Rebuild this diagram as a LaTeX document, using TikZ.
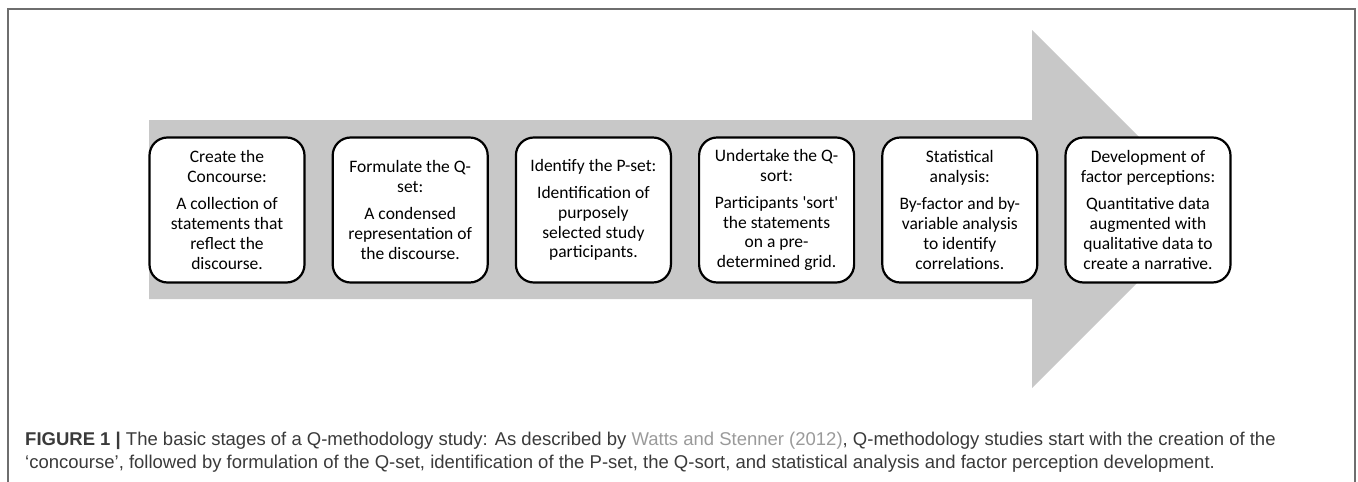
\documentclass[tikz,border=0pt]{standalone}
\usepackage{fontspec}
\setmainfont{Carlito}
\newfontfamily\capfont{Liberation Sans}
\usetikzlibrary{positioning,calc}
\definecolor{arrowgray}{HTML}{C8C8C8}
\definecolor{framegray}{HTML}{6E6E6E}
\definecolor{captext}{HTML}{3A3A3A}
\definecolor{citegray}{HTML}{9A9A9A}
\tikzset{
  stage/.style={draw=black, line width=2.2pt, rounded corners=18pt, fill=white,
    minimum width=155pt, minimum height=145pt, inner sep=2pt,
    align=center, font=\fontsize{17.5}{19.7}\selectfont},
  caption/.style={anchor=base west, inner sep=0pt, text=captext,
    font=\capfont\fontsize{18.5}{23}\selectfont}
}
\newcommand{\stagetext}[2]{#1\\[7.6pt]#2}

\begin{document}
\begin{tikzpicture}[x=1pt,y=-1pt]
      \useasboundingbox (0,0) rectangle (1358,482);
      % frame of the figure
      \draw[framegray,line width=1.2pt] (8,482) -- (8,9) -- (1355,9) -- (1355,482);
      % big gray arrow
      \fill[arrowgray] (149,120) -- (1032,120) -- (1032,30) -- (1211,209)
        -- (1032,388) -- (1032,299) -- (149,299) -- cycle;

      \node[stage] (concourse) at (227,210)
        {\stagetext{Create the\\Concourse:}{A collection of\\statements that\\reflect the\\discourse.}};
      \node[stage, right=26pt of concourse] (qset)
        {\stagetext{Formulate the Q-\\set:}{A condensed\\representation of\\the discourse.}};
      \node[stage, right=26pt of qset] (pset)
        {\stagetext{Identify the P-set:}{Identification of\\purposely\\selected study\\participants.}};
      \node[stage, right=26pt of pset] (qsort)
        {\stagetext{Undertake the Q-\\sort:}{Participants \textquotesingle sort\textquotesingle\\the statements\\on a pre-\\determined grid.}};
      \node[stage, right=26pt of qsort] (stats)
        {\stagetext{Statistical\\analysis:}{By-factor and by-\\variable analysis\\to identify\\correlations.}};
      \node[stage, minimum width=165pt, right=26pt of stats] (factors)
        {\stagetext{Development of\\factor perceptions:}{Quantitative data\\augmented with\\qualitative data to\\create a narrative.}};

      % caption
      \node[caption] (capline1) at (25,445)
        {\textbf{FIGURE 1 |} The basic stages of a Q-methodology study: As described by \textcolor{citegray}{Watts and Stenner (2012)}, Q-methodology studies start with the creation of the};
      \node[caption] (capline2) at (25,468)
        {‘concourse’, followed by formulation of the Q-set, identification of the P-set, the Q-sort, and statistical analysis and factor perception development.};
\end{tikzpicture}
\end{document}
